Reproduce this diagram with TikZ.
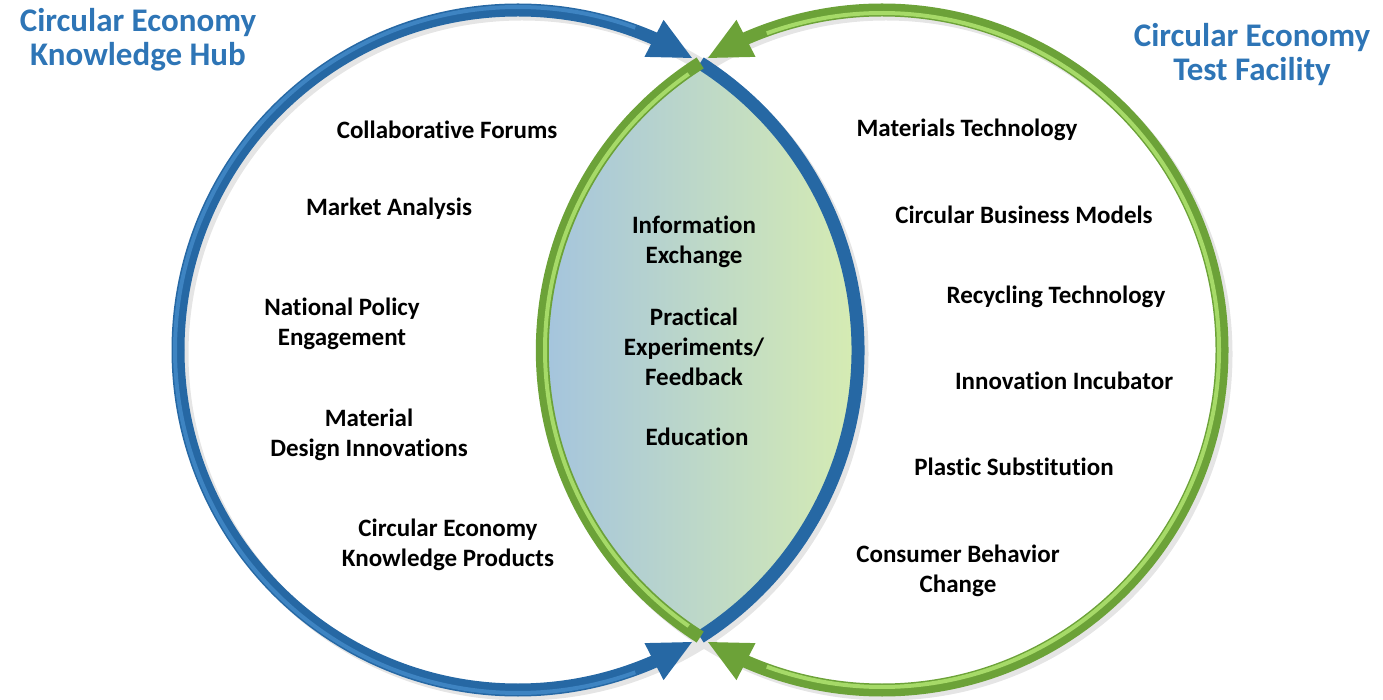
\documentclass[tikz,border=0pt]{standalone}
\usepackage{fontspec}
\setmainfont{Carlito}[Ligatures=NoCommon]
\usetikzlibrary{arrows.meta,bending,positioning}
\definecolor{hubblue}{RGB}{38,104,164}
\definecolor{hubshine}{RGB}{62,132,194}
\definecolor{testgreen}{RGB}{108,162,56}
\definecolor{testshine}{RGB}{166,218,104}
\definecolor{titleblue}{RGB}{46,117,182}
\definecolor{lensblue}{RGB}{164,196,222}
\definecolor{lensgreen}{RGB}{214,236,178}

\begin{document}
\begin{tikzpicture}[x=1pt,y=1pt,
  ring/.style={line width=13pt},
  hubring/.style={ring,draw=hubblue},
  testring/.style={ring,draw=testgreen},
  ringshadow/.style={ring,draw=black!10},
  shine/.style={line width=4pt},
  tip/.style={-{Triangle[length=44pt,width=38pt]}},
  item/.style={font=\fontsize{25}{30}\selectfont\bfseries,align=center,text=black},
  title/.style={font=\fontsize{33}{34}\selectfont\bfseries,align=center,text=titleblue}]

\useasboundingbox (0,0) rectangle (1383,699);
\coordinate (hubC) at (518,349);
\coordinate (testC) at (882,349);
\coordinate (hubW) at ([shift={(180:340)}]hubC);
\coordinate (testE) at ([shift={(0:340)}]testC);
\coordinate (lensT) at ([shift={(57.6:340)}]hubC);
\coordinate (lensB) at ([shift={(-57.6:340)}]hubC);

% shadows
\draw[ringshadow] ([shift={(4,-4)}]hubC) circle[radius=340pt];
\draw[ringshadow] ([shift={(4,-4)}]testC) circle[radius=340pt];

% lens
\begin{scope}
  \clip (hubC) circle[radius=340pt];
  \clip (testC) circle[radius=340pt];
  \fill[left color=lensblue,right color=lensgreen] (542,0) rectangle (858,699);
\end{scope}

% rings
\draw[hubring] (lensT) arc[start angle=57.6,end angle=-57.6,radius=340pt];
\draw[hubring,tip] (hubW) arc[start angle=180,end angle=59,radius=340pt];
\draw[hubring,tip] (hubW) arc[start angle=180,end angle=301,radius=340pt];
\draw[testring] (lensT) arc[start angle=122.4,end angle=237.6,radius=340pt];
\draw[testring,tip] (testE) arc[start angle=0,end angle=121,radius=340pt];
\draw[testring,tip] (testE) arc[start angle=360,end angle=239,radius=340pt];

% highlights
\draw[shine,hubshine] ([shift={(180:343)}]hubC) arc[start angle=180,end angle=70,radius=343pt];
\draw[shine,hubshine] ([shift={(180:343)}]hubC) arc[start angle=180,end angle=290,radius=343pt];
\draw[shine,testshine] ([shift={(0:337)}]testC) arc[start angle=0,end angle=110,radius=337pt];
\draw[shine,testshine] ([shift={(0:337)}]testC) arc[start angle=360,end angle=250,radius=337pt];
\draw[shine,testshine] ([shift={(125:337)}]testC) arc[start angle=125,end angle=235,radius=337pt];

% titles
\node[title] (hubtitle) at (138,659) {Circular Economy\\Knowledge Hub};
\node[title] (testtitle) at (1252,644) {Circular Economy\\Test Facility};

% knowledge hub
\node[item] (forums) at (447,569) {Collaborative Forums};
\node[item] (market) at (389,490) {Market Analysis};
\node[item] (policy) at (342,375) {National Policy\\Engagement};
\node[item] (design) at (369,264) {Material\\Design Innovations};
\node[item] (products) at (448,154) {Circular Economy\\Knowledge Products};

% shared
\node[item] (exchange) at (694,457) {Information\\Exchange};
\node[item] (experiments) at (694,352) {Practical\\Experiments/\\Feedback};
\node[item] (education) at (697,262) {Education};

% test facility
\node[item] (materials) at (967,569) {Materials Technology};
\node[item] (business) at (1024,484) {Circular Business Models};
\node[item] (recycling) at (1056,402) {Recycling Technology};
\node[item] (incubator) at (1064,318) {Innovation Incubator};
\node[item] (plastic) at (1014,232) {Plastic Substitution};
\node[item] (consumer) at (958,128) {Consumer Behavior\\Change};
\end{tikzpicture}
\end{document}
